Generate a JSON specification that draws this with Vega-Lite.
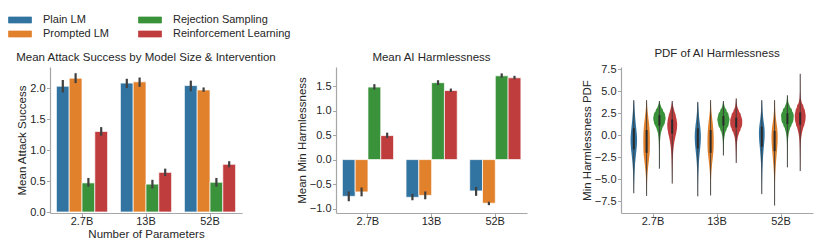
{
  "$schema": "https://vega.github.io/schema/vega-lite/v6.json",
  "padding": {"left": 12, "top": 12, "right": 5, "bottom": 5},
  "bounds": "flush",
  "spacing": 94,
  "config": {
    "font": "Liberation Sans",
    "view": {"stroke": null},
    "axis": {"domainColor": "#a6a6a6", "domainWidth": 1.2, "tickColor": "#a6a6a6", "tickSize": 3.5, "labelColor": "#262626", "labelFont": "Liberation Sans", "labelFontSize": 11, "labelOverlap": false, "titleFont": "Liberation Sans", "titleFontSize": 11.5, "titleFontWeight": "normal", "titleColor": "#262626", "grid": false, "labelPadding": 1.5, "titlePadding": 2},
    "axisX": {"labelPadding": -1, "titlePadding": 1.5},
    "title": {"font": "Liberation Sans", "fontSize": 11.5, "fontWeight": "normal", "color": "#262626", "offset": 0},
    "legend": {"orient": "none", "legendX": -38, "legendY": -55, "columns": 2, "columnPadding": 27, "rowPadding": 1, "symbolType": "M-1.6,-0.42H1.6V0.42H-1.6Z", "symbolSize": 207, "symbolStrokeWidth": 0, "labelFont": "Liberation Sans", "labelFontSize": 11, "labelColor": "#262626", "labelOffset": 15, "title": null},
    "bar": {"stroke": "white", "strokeWidth": 0.7}
  },
  "datasets": {
    "attack": [
      {"size": "2.7B", "method": "Plain LM", "mean": 2.03, "lo": 1.93, "hi": 2.13},
      {"size": "2.7B", "method": "Prompted LM", "mean": 2.16, "lo": 2.08, "hi": 2.24},
      {"size": "2.7B", "method": "Rejection Sampling", "mean": 0.47, "lo": 0.41, "hi": 0.55},
      {"size": "2.7B", "method": "Reinforcement Learning", "mean": 1.30, "lo": 1.23, "hi": 1.37},
      {"size": "13B", "method": "Plain LM", "mean": 2.08, "lo": 2.00, "hi": 2.15},
      {"size": "13B", "method": "Prompted LM", "mean": 2.10, "lo": 2.02, "hi": 2.17},
      {"size": "13B", "method": "Rejection Sampling", "mean": 0.45, "lo": 0.38, "hi": 0.52},
      {"size": "13B", "method": "Reinforcement Learning", "mean": 0.64, "lo": 0.58, "hi": 0.70},
      {"size": "52B", "method": "Plain LM", "mean": 2.04, "lo": 1.95, "hi": 2.12},
      {"size": "52B", "method": "Prompted LM", "mean": 1.97, "lo": 1.94, "hi": 2.01},
      {"size": "52B", "method": "Rejection Sampling", "mean": 0.48, "lo": 0.41, "hi": 0.55},
      {"size": "52B", "method": "Reinforcement Learning", "mean": 0.77, "lo": 0.72, "hi": 0.82}
    ],
    "harm": [
      {"size": "2.7B", "method": "Plain LM", "mean": -0.75, "lo": -0.85, "hi": -0.65},
      {"size": "2.7B", "method": "Prompted LM", "mean": -0.66, "lo": -0.75, "hi": -0.57},
      {"size": "2.7B", "method": "Rejection Sampling", "mean": 1.48, "lo": 1.43, "hi": 1.54},
      {"size": "2.7B", "method": "Reinforcement Learning", "mean": 0.49, "lo": 0.44, "hi": 0.55},
      {"size": "13B", "method": "Plain LM", "mean": -0.77, "lo": -0.83, "hi": -0.70},
      {"size": "13B", "method": "Prompted LM", "mean": -0.73, "lo": -0.81, "hi": -0.65},
      {"size": "13B", "method": "Rejection Sampling", "mean": 1.57, "lo": 1.52, "hi": 1.62},
      {"size": "13B", "method": "Reinforcement Learning", "mean": 1.41, "lo": 1.38, "hi": 1.45},
      {"size": "52B", "method": "Plain LM", "mean": -0.64, "lo": -0.74, "hi": -0.56},
      {"size": "52B", "method": "Prompted LM", "mean": -0.89, "lo": -0.93, "hi": -0.86},
      {"size": "52B", "method": "Rejection Sampling", "mean": 1.71, "lo": 1.67, "hi": 1.76},
      {"size": "52B", "method": "Reinforcement Learning", "mean": 1.67, "lo": 1.64, "hi": 1.71}
    ],
    "vstats": [
      {"size": "2.7B", "method": "Plain LM", "min": -6.6, "max": 4.0, "q1": -1.6, "q3": 0.8},
      {"size": "2.7B", "method": "Prompted LM", "min": -6.9, "max": 4.0, "q1": -2.0, "q3": 0.6},
      {"size": "2.7B", "method": "Rejection Sampling", "min": -3.8, "max": 3.9, "q1": 1.1, "q3": 2.3},
      {"size": "2.7B", "method": "Reinforcement Learning", "min": -5.5, "max": 3.9, "q1": 0.2, "q3": 1.8},
      {"size": "13B", "method": "Plain LM", "min": -6.95, "max": 3.8, "q1": -1.5, "q3": 0.8},
      {"size": "13B", "method": "Prompted LM", "min": -6.85, "max": 4.0, "q1": -2.0, "q3": 0.6},
      {"size": "13B", "method": "Rejection Sampling", "min": -2.3, "max": 3.9, "q1": 1.1, "q3": 2.2},
      {"size": "13B", "method": "Reinforcement Learning", "min": -3.15, "max": 4.2, "q1": 0.9, "q3": 2.0},
      {"size": "52B", "method": "Plain LM", "min": -6.7, "max": 4.0, "q1": -1.3, "q3": 1.0},
      {"size": "52B", "method": "Prompted LM", "min": -8.0, "max": 4.0, "q1": -1.8, "q3": 0.5},
      {"size": "52B", "method": "Rejection Sampling", "min": -3.65, "max": 4.55, "q1": 1.3, "q3": 2.5},
      {"size": "52B", "method": "Reinforcement Learning", "min": -4.07, "max": 7.0, "q1": 1.2, "q3": 2.6}
    ],
    "violin": [
      {"size": "2.7B", "method": "Plain LM", "v": 4.0, "pdf": 0.3},
      {"size": "2.7B", "method": "Plain LM", "v": 3.75, "pdf": 0.8},
      {"size": "2.7B", "method": "Plain LM", "v": 3.25, "pdf": 1.2},
      {"size": "2.7B", "method": "Plain LM", "v": 2.75, "pdf": 1.8},
      {"size": "2.7B", "method": "Plain LM", "v": 2.25, "pdf": 2.5},
      {"size": "2.7B", "method": "Plain LM", "v": 1.75, "pdf": 3.2},
      {"size": "2.7B", "method": "Plain LM", "v": 1.25, "pdf": 4.0},
      {"size": "2.7B", "method": "Plain LM", "v": 0.75, "pdf": 5.0},
      {"size": "2.7B", "method": "Plain LM", "v": 0.25, "pdf": 5.8},
      {"size": "2.7B", "method": "Plain LM", "v": -0.25, "pdf": 6.4},
      {"size": "2.7B", "method": "Plain LM", "v": -0.75, "pdf": 6.5},
      {"size": "2.7B", "method": "Plain LM", "v": -1.25, "pdf": 6.0},
      {"size": "2.7B", "method": "Plain LM", "v": -1.75, "pdf": 5.2},
      {"size": "2.7B", "method": "Plain LM", "v": -2.25, "pdf": 4.2},
      {"size": "2.7B", "method": "Plain LM", "v": -2.75, "pdf": 3.3},
      {"size": "2.7B", "method": "Plain LM", "v": -3.25, "pdf": 2.5},
      {"size": "2.7B", "method": "Plain LM", "v": -3.75, "pdf": 1.9},
      {"size": "2.7B", "method": "Plain LM", "v": -4.25, "pdf": 1.4},
      {"size": "2.7B", "method": "Plain LM", "v": -4.75, "pdf": 1.0},
      {"size": "2.7B", "method": "Plain LM", "v": -5.25, "pdf": 0.7},
      {"size": "2.7B", "method": "Plain LM", "v": -5.9, "pdf": 0.4},
      {"size": "2.7B", "method": "Plain LM", "v": -6.6, "pdf": 0.2},
      {"size": "2.7B", "method": "Prompted LM", "v": 4.0, "pdf": 0.3},
      {"size": "2.7B", "method": "Prompted LM", "v": 3.75, "pdf": 0.8},
      {"size": "2.7B", "method": "Prompted LM", "v": 3.25, "pdf": 1.2},
      {"size": "2.7B", "method": "Prompted LM", "v": 2.75, "pdf": 2.0},
      {"size": "2.7B", "method": "Prompted LM", "v": 2.25, "pdf": 3.0},
      {"size": "2.7B", "method": "Prompted LM", "v": 1.75, "pdf": 4.0},
      {"size": "2.7B", "method": "Prompted LM", "v": 1.25, "pdf": 5.0},
      {"size": "2.7B", "method": "Prompted LM", "v": 0.75, "pdf": 5.8},
      {"size": "2.7B", "method": "Prompted LM", "v": 0.25, "pdf": 6.3},
      {"size": "2.7B", "method": "Prompted LM", "v": -0.25, "pdf": 6.5},
      {"size": "2.7B", "method": "Prompted LM", "v": -0.75, "pdf": 6.6},
      {"size": "2.7B", "method": "Prompted LM", "v": -1.25, "pdf": 6.5},
      {"size": "2.7B", "method": "Prompted LM", "v": -1.75, "pdf": 6.3},
      {"size": "2.7B", "method": "Prompted LM", "v": -2.25, "pdf": 5.8},
      {"size": "2.7B", "method": "Prompted LM", "v": -2.75, "pdf": 4.8},
      {"size": "2.7B", "method": "Prompted LM", "v": -3.25, "pdf": 3.8},
      {"size": "2.7B", "method": "Prompted LM", "v": -3.75, "pdf": 2.8},
      {"size": "2.7B", "method": "Prompted LM", "v": -4.25, "pdf": 2.0},
      {"size": "2.7B", "method": "Prompted LM", "v": -4.75, "pdf": 1.4},
      {"size": "2.7B", "method": "Prompted LM", "v": -5.25, "pdf": 1.0},
      {"size": "2.7B", "method": "Prompted LM", "v": -5.75, "pdf": 0.7},
      {"size": "2.7B", "method": "Prompted LM", "v": -6.3, "pdf": 0.4},
      {"size": "2.7B", "method": "Prompted LM", "v": -6.9, "pdf": 0.2},
      {"size": "2.7B", "method": "Rejection Sampling", "v": 3.9, "pdf": 0.3},
      {"size": "2.7B", "method": "Rejection Sampling", "v": 3.6, "pdf": 1.5},
      {"size": "2.7B", "method": "Rejection Sampling", "v": 3.25, "pdf": 3.5},
      {"size": "2.7B", "method": "Rejection Sampling", "v": 2.75, "pdf": 7.5},
      {"size": "2.7B", "method": "Rejection Sampling", "v": 2.25, "pdf": 11.5},
      {"size": "2.7B", "method": "Rejection Sampling", "v": 1.9, "pdf": 12.5},
      {"size": "2.7B", "method": "Rejection Sampling", "v": 1.5, "pdf": 11.0},
      {"size": "2.7B", "method": "Rejection Sampling", "v": 1.25, "pdf": 9.0},
      {"size": "2.7B", "method": "Rejection Sampling", "v": 0.75, "pdf": 5.5},
      {"size": "2.7B", "method": "Rejection Sampling", "v": 0.25, "pdf": 3.0},
      {"size": "2.7B", "method": "Rejection Sampling", "v": -0.25, "pdf": 1.8},
      {"size": "2.7B", "method": "Rejection Sampling", "v": -0.75, "pdf": 1.2},
      {"size": "2.7B", "method": "Rejection Sampling", "v": -1.25, "pdf": 0.9},
      {"size": "2.7B", "method": "Rejection Sampling", "v": -2.0, "pdf": 0.6},
      {"size": "2.7B", "method": "Rejection Sampling", "v": -3.0, "pdf": 0.4},
      {"size": "2.7B", "method": "Rejection Sampling", "v": -3.8, "pdf": 0.2},
      {"size": "2.7B", "method": "Reinforcement Learning", "v": 3.9, "pdf": 0.3},
      {"size": "2.7B", "method": "Reinforcement Learning", "v": 3.6, "pdf": 1.0},
      {"size": "2.7B", "method": "Reinforcement Learning", "v": 3.25, "pdf": 2.2},
      {"size": "2.7B", "method": "Reinforcement Learning", "v": 2.75, "pdf": 4.5},
      {"size": "2.7B", "method": "Reinforcement Learning", "v": 2.25, "pdf": 7.0},
      {"size": "2.7B", "method": "Reinforcement Learning", "v": 1.75, "pdf": 9.0},
      {"size": "2.7B", "method": "Reinforcement Learning", "v": 1.25, "pdf": 10.0},
      {"size": "2.7B", "method": "Reinforcement Learning", "v": 0.75, "pdf": 9.5},
      {"size": "2.7B", "method": "Reinforcement Learning", "v": 0.25, "pdf": 8.0},
      {"size": "2.7B", "method": "Reinforcement Learning", "v": -0.25, "pdf": 6.0},
      {"size": "2.7B", "method": "Reinforcement Learning", "v": -0.75, "pdf": 4.3},
      {"size": "2.7B", "method": "Reinforcement Learning", "v": -1.25, "pdf": 3.0},
      {"size": "2.7B", "method": "Reinforcement Learning", "v": -1.75, "pdf": 2.2},
      {"size": "2.7B", "method": "Reinforcement Learning", "v": -2.25, "pdf": 1.6},
      {"size": "2.7B", "method": "Reinforcement Learning", "v": -2.75, "pdf": 1.2},
      {"size": "2.7B", "method": "Reinforcement Learning", "v": -3.5, "pdf": 0.8},
      {"size": "2.7B", "method": "Reinforcement Learning", "v": -4.5, "pdf": 0.5},
      {"size": "2.7B", "method": "Reinforcement Learning", "v": -5.5, "pdf": 0.2},
      {"size": "13B", "method": "Plain LM", "v": 3.8, "pdf": 0.3},
      {"size": "13B", "method": "Plain LM", "v": 3.5, "pdf": 0.9},
      {"size": "13B", "method": "Plain LM", "v": 3.25, "pdf": 1.1},
      {"size": "13B", "method": "Plain LM", "v": 2.75, "pdf": 1.6},
      {"size": "13B", "method": "Plain LM", "v": 2.25, "pdf": 2.3},
      {"size": "13B", "method": "Plain LM", "v": 1.75, "pdf": 3.2},
      {"size": "13B", "method": "Plain LM", "v": 1.25, "pdf": 4.3},
      {"size": "13B", "method": "Plain LM", "v": 0.75, "pdf": 5.3},
      {"size": "13B", "method": "Plain LM", "v": 0.25, "pdf": 6.0},
      {"size": "13B", "method": "Plain LM", "v": -0.25, "pdf": 6.2},
      {"size": "13B", "method": "Plain LM", "v": -0.75, "pdf": 5.9},
      {"size": "13B", "method": "Plain LM", "v": -1.25, "pdf": 5.2},
      {"size": "13B", "method": "Plain LM", "v": -1.75, "pdf": 4.3},
      {"size": "13B", "method": "Plain LM", "v": -2.25, "pdf": 3.4},
      {"size": "13B", "method": "Plain LM", "v": -2.75, "pdf": 2.6},
      {"size": "13B", "method": "Plain LM", "v": -3.25, "pdf": 2.0},
      {"size": "13B", "method": "Plain LM", "v": -3.75, "pdf": 1.5},
      {"size": "13B", "method": "Plain LM", "v": -4.25, "pdf": 1.1},
      {"size": "13B", "method": "Plain LM", "v": -4.75, "pdf": 0.8},
      {"size": "13B", "method": "Plain LM", "v": -5.5, "pdf": 0.5},
      {"size": "13B", "method": "Plain LM", "v": -6.2, "pdf": 0.35},
      {"size": "13B", "method": "Plain LM", "v": -6.95, "pdf": 0.2},
      {"size": "13B", "method": "Prompted LM", "v": 4.0, "pdf": 0.3},
      {"size": "13B", "method": "Prompted LM", "v": 3.75, "pdf": 0.7},
      {"size": "13B", "method": "Prompted LM", "v": 3.25, "pdf": 1.0},
      {"size": "13B", "method": "Prompted LM", "v": 2.75, "pdf": 1.5},
      {"size": "13B", "method": "Prompted LM", "v": 2.25, "pdf": 2.5},
      {"size": "13B", "method": "Prompted LM", "v": 1.75, "pdf": 3.5},
      {"size": "13B", "method": "Prompted LM", "v": 1.25, "pdf": 4.5},
      {"size": "13B", "method": "Prompted LM", "v": 0.75, "pdf": 5.3},
      {"size": "13B", "method": "Prompted LM", "v": 0.25, "pdf": 5.9},
      {"size": "13B", "method": "Prompted LM", "v": -0.25, "pdf": 6.2},
      {"size": "13B", "method": "Prompted LM", "v": -0.75, "pdf": 6.3},
      {"size": "13B", "method": "Prompted LM", "v": -1.25, "pdf": 6.2},
      {"size": "13B", "method": "Prompted LM", "v": -1.75, "pdf": 5.8},
      {"size": "13B", "method": "Prompted LM", "v": -2.25, "pdf": 5.0},
      {"size": "13B", "method": "Prompted LM", "v": -2.75, "pdf": 4.0},
      {"size": "13B", "method": "Prompted LM", "v": -3.25, "pdf": 3.0},
      {"size": "13B", "method": "Prompted LM", "v": -3.75, "pdf": 2.2},
      {"size": "13B", "method": "Prompted LM", "v": -4.25, "pdf": 1.5},
      {"size": "13B", "method": "Prompted LM", "v": -4.75, "pdf": 1.0},
      {"size": "13B", "method": "Prompted LM", "v": -5.25, "pdf": 0.7},
      {"size": "13B", "method": "Prompted LM", "v": -6.0, "pdf": 0.4},
      {"size": "13B", "method": "Prompted LM", "v": -6.85, "pdf": 0.2},
      {"size": "13B", "method": "Rejection Sampling", "v": 3.9, "pdf": 0.3},
      {"size": "13B", "method": "Rejection Sampling", "v": 3.6, "pdf": 1.2},
      {"size": "13B", "method": "Rejection Sampling", "v": 3.25, "pdf": 2.5},
      {"size": "13B", "method": "Rejection Sampling", "v": 2.75, "pdf": 6.5},
      {"size": "13B", "method": "Rejection Sampling", "v": 2.25, "pdf": 10.5},
      {"size": "13B", "method": "Rejection Sampling", "v": 1.8, "pdf": 12.3},
      {"size": "13B", "method": "Rejection Sampling", "v": 1.25, "pdf": 10.5},
      {"size": "13B", "method": "Rejection Sampling", "v": 0.75, "pdf": 6.5},
      {"size": "13B", "method": "Rejection Sampling", "v": 0.25, "pdf": 3.5},
      {"size": "13B", "method": "Rejection Sampling", "v": -0.25, "pdf": 1.8},
      {"size": "13B", "method": "Rejection Sampling", "v": -0.75, "pdf": 1.0},
      {"size": "13B", "method": "Rejection Sampling", "v": -1.5, "pdf": 0.6},
      {"size": "13B", "method": "Rejection Sampling", "v": -2.3, "pdf": 0.2},
      {"size": "13B", "method": "Reinforcement Learning", "v": 4.2, "pdf": 0.3},
      {"size": "13B", "method": "Reinforcement Learning", "v": 3.75, "pdf": 0.9},
      {"size": "13B", "method": "Reinforcement Learning", "v": 3.25, "pdf": 2.2},
      {"size": "13B", "method": "Reinforcement Learning", "v": 2.75, "pdf": 5.5},
      {"size": "13B", "method": "Reinforcement Learning", "v": 2.25, "pdf": 9.5},
      {"size": "13B", "method": "Reinforcement Learning", "v": 1.75, "pdf": 12.0},
      {"size": "13B", "method": "Reinforcement Learning", "v": 1.25, "pdf": 12.0},
      {"size": "13B", "method": "Reinforcement Learning", "v": 0.75, "pdf": 9.0},
      {"size": "13B", "method": "Reinforcement Learning", "v": 0.25, "pdf": 5.5},
      {"size": "13B", "method": "Reinforcement Learning", "v": -0.25, "pdf": 3.0},
      {"size": "13B", "method": "Reinforcement Learning", "v": -0.75, "pdf": 1.8},
      {"size": "13B", "method": "Reinforcement Learning", "v": -1.25, "pdf": 1.2},
      {"size": "13B", "method": "Reinforcement Learning", "v": -2.2, "pdf": 0.6},
      {"size": "13B", "method": "Reinforcement Learning", "v": -3.15, "pdf": 0.2},
      {"size": "52B", "method": "Plain LM", "v": 4.0, "pdf": 0.3},
      {"size": "52B", "method": "Plain LM", "v": 3.75, "pdf": 0.7},
      {"size": "52B", "method": "Plain LM", "v": 3.25, "pdf": 1.0},
      {"size": "52B", "method": "Plain LM", "v": 2.75, "pdf": 1.5},
      {"size": "52B", "method": "Plain LM", "v": 2.25, "pdf": 2.3},
      {"size": "52B", "method": "Plain LM", "v": 1.75, "pdf": 3.3},
      {"size": "52B", "method": "Plain LM", "v": 1.25, "pdf": 4.5},
      {"size": "52B", "method": "Plain LM", "v": 0.75, "pdf": 5.5},
      {"size": "52B", "method": "Plain LM", "v": 0.25, "pdf": 5.8},
      {"size": "52B", "method": "Plain LM", "v": -0.25, "pdf": 5.6},
      {"size": "52B", "method": "Plain LM", "v": -0.75, "pdf": 5.0},
      {"size": "52B", "method": "Plain LM", "v": -1.25, "pdf": 4.2},
      {"size": "52B", "method": "Plain LM", "v": -1.75, "pdf": 3.4},
      {"size": "52B", "method": "Plain LM", "v": -2.25, "pdf": 2.7},
      {"size": "52B", "method": "Plain LM", "v": -2.75, "pdf": 2.1},
      {"size": "52B", "method": "Plain LM", "v": -3.25, "pdf": 1.6},
      {"size": "52B", "method": "Plain LM", "v": -3.75, "pdf": 1.2},
      {"size": "52B", "method": "Plain LM", "v": -4.25, "pdf": 0.9},
      {"size": "52B", "method": "Plain LM", "v": -5.0, "pdf": 0.6},
      {"size": "52B", "method": "Plain LM", "v": -5.8, "pdf": 0.4},
      {"size": "52B", "method": "Plain LM", "v": -6.7, "pdf": 0.2},
      {"size": "52B", "method": "Prompted LM", "v": 4.0, "pdf": 0.3},
      {"size": "52B", "method": "Prompted LM", "v": 3.75, "pdf": 0.6},
      {"size": "52B", "method": "Prompted LM", "v": 3.25, "pdf": 0.9},
      {"size": "52B", "method": "Prompted LM", "v": 2.75, "pdf": 1.3},
      {"size": "52B", "method": "Prompted LM", "v": 2.25, "pdf": 2.0},
      {"size": "52B", "method": "Prompted LM", "v": 1.75, "pdf": 3.0},
      {"size": "52B", "method": "Prompted LM", "v": 1.25, "pdf": 4.2},
      {"size": "52B", "method": "Prompted LM", "v": 0.75, "pdf": 5.3},
      {"size": "52B", "method": "Prompted LM", "v": 0.25, "pdf": 6.0},
      {"size": "52B", "method": "Prompted LM", "v": -0.25, "pdf": 6.2},
      {"size": "52B", "method": "Prompted LM", "v": -0.75, "pdf": 6.0},
      {"size": "52B", "method": "Prompted LM", "v": -1.25, "pdf": 5.5},
      {"size": "52B", "method": "Prompted LM", "v": -1.75, "pdf": 4.8},
      {"size": "52B", "method": "Prompted LM", "v": -2.25, "pdf": 4.0},
      {"size": "52B", "method": "Prompted LM", "v": -2.75, "pdf": 3.3},
      {"size": "52B", "method": "Prompted LM", "v": -3.25, "pdf": 2.6},
      {"size": "52B", "method": "Prompted LM", "v": -3.75, "pdf": 2.0},
      {"size": "52B", "method": "Prompted LM", "v": -4.25, "pdf": 1.5},
      {"size": "52B", "method": "Prompted LM", "v": -4.75, "pdf": 1.1},
      {"size": "52B", "method": "Prompted LM", "v": -5.25, "pdf": 0.8},
      {"size": "52B", "method": "Prompted LM", "v": -6.0, "pdf": 0.5},
      {"size": "52B", "method": "Prompted LM", "v": -7.0, "pdf": 0.3},
      {"size": "52B", "method": "Prompted LM", "v": -8.0, "pdf": 0.2},
      {"size": "52B", "method": "Rejection Sampling", "v": 4.55, "pdf": 0.3},
      {"size": "52B", "method": "Rejection Sampling", "v": 4.25, "pdf": 0.8},
      {"size": "52B", "method": "Rejection Sampling", "v": 3.75, "pdf": 2.0},
      {"size": "52B", "method": "Rejection Sampling", "v": 3.25, "pdf": 5.0},
      {"size": "52B", "method": "Rejection Sampling", "v": 2.75, "pdf": 9.5},
      {"size": "52B", "method": "Rejection Sampling", "v": 2.25, "pdf": 12.7},
      {"size": "52B", "method": "Rejection Sampling", "v": 1.75, "pdf": 12.0},
      {"size": "52B", "method": "Rejection Sampling", "v": 1.25, "pdf": 8.5},
      {"size": "52B", "method": "Rejection Sampling", "v": 0.75, "pdf": 5.0},
      {"size": "52B", "method": "Rejection Sampling", "v": 0.25, "pdf": 2.8},
      {"size": "52B", "method": "Rejection Sampling", "v": -0.25, "pdf": 1.6},
      {"size": "52B", "method": "Rejection Sampling", "v": -0.75, "pdf": 1.0},
      {"size": "52B", "method": "Rejection Sampling", "v": -1.5, "pdf": 0.6},
      {"size": "52B", "method": "Rejection Sampling", "v": -2.5, "pdf": 0.4},
      {"size": "52B", "method": "Rejection Sampling", "v": -3.65, "pdf": 0.2},
      {"size": "52B", "method": "Reinforcement Learning", "v": 7.0, "pdf": 0.2},
      {"size": "52B", "method": "Reinforcement Learning", "v": 6.0, "pdf": 0.3},
      {"size": "52B", "method": "Reinforcement Learning", "v": 5.0, "pdf": 0.45},
      {"size": "52B", "method": "Reinforcement Learning", "v": 4.25, "pdf": 1.2},
      {"size": "52B", "method": "Reinforcement Learning", "v": 3.75, "pdf": 3.0},
      {"size": "52B", "method": "Reinforcement Learning", "v": 3.25, "pdf": 6.5},
      {"size": "52B", "method": "Reinforcement Learning", "v": 2.75, "pdf": 9.5},
      {"size": "52B", "method": "Reinforcement Learning", "v": 2.25, "pdf": 11.0},
      {"size": "52B", "method": "Reinforcement Learning", "v": 1.75, "pdf": 10.5},
      {"size": "52B", "method": "Reinforcement Learning", "v": 1.25, "pdf": 8.5},
      {"size": "52B", "method": "Reinforcement Learning", "v": 0.75, "pdf": 5.5},
      {"size": "52B", "method": "Reinforcement Learning", "v": 0.25, "pdf": 3.5},
      {"size": "52B", "method": "Reinforcement Learning", "v": -0.25, "pdf": 2.0},
      {"size": "52B", "method": "Reinforcement Learning", "v": -0.75, "pdf": 1.3},
      {"size": "52B", "method": "Reinforcement Learning", "v": -1.5, "pdf": 0.8},
      {"size": "52B", "method": "Reinforcement Learning", "v": -2.5, "pdf": 0.5},
      {"size": "52B", "method": "Reinforcement Learning", "v": -3.3, "pdf": 0.35},
      {"size": "52B", "method": "Reinforcement Learning", "v": -4.07, "pdf": 0.2}
    ]
  },
  "hconcat": [
    {
      "width": 192, "height": 146,
      "title": "Mean Attack Success by Model Size & Intervention",
      "data": {"name": "attack"},
      "encoding": {
        "x": {"field": "size", "type": "nominal", "sort": ["2.7B", "13B", "52B"], "scale": {"paddingInner": 0.2, "paddingOuter": 0.1}, "axis": {"title": "Number of Parameters", "labelAngle": 0}},
        "xOffset": {"field": "method", "type": "nominal", "sort": ["Plain LM", "Prompted LM", "Rejection Sampling", "Reinforcement Learning"], "scale": {"paddingInner": 0, "paddingOuter": 0}}
      },
      "layer": [
        {"mark": {"type": "bar"},
         "encoding": {
           "y": {"field": "mean", "type": "quantitative", "scale": {"domain": [-0.016, 2.34], "nice": false, "zero": false}, "axis": {"title": "Mean Attack Success", "values": [0, 0.5, 1, 1.5, 2], "format": ".1f", "labelOverlap": false}},
           "y2": {"datum": 0},
           "color": {"field": "method", "type": "nominal", "scale": {"domain": ["Plain LM", "Prompted LM", "Rejection Sampling", "Reinforcement Learning"], "range": ["#3274a1", "#e1812c", "#3a923a", "#c03d3e"]}}
         }},
        {"mark": {"type": "rule", "color": "#404040", "strokeWidth": 2.2},
         "encoding": {"y": {"field": "lo", "type": "quantitative", "axis": {"title": "Mean Attack Success", "values": [0, 0.5, 1, 1.5, 2], "format": ".1f", "labelOverlap": false}}, "y2": {"field": "hi"}}}
      ]
    },
    {
      "width": 191, "height": 146,
      "title": "Mean AI Harmlessness",
      "data": {"name": "harm"},
      "encoding": {
        "x": {"field": "size", "type": "nominal", "sort": ["2.7B", "13B", "52B"], "scale": {"paddingInner": 0.2, "paddingOuter": 0.1}, "axis": {"title": null, "labelAngle": 0}},
        "xOffset": {"field": "method", "type": "nominal", "sort": ["Plain LM", "Prompted LM", "Rejection Sampling", "Reinforcement Learning"], "scale": {"paddingInner": 0, "paddingOuter": 0}}
      },
      "layer": [
        {"mark": {"type": "bar"},
         "encoding": {
           "y": {"field": "mean", "type": "quantitative", "scale": {"domain": [-1.09, 1.89], "nice": false, "zero": false}, "axis": {"title": "Mean Min Harmlessness", "values": [-1, -0.5, 0, 0.5, 1, 1.5], "format": ".1f", "labelOverlap": false}},
           "y2": {"datum": 0},
           "color": {"field": "method", "type": "nominal", "scale": {"domain": ["Plain LM", "Prompted LM", "Rejection Sampling", "Reinforcement Learning"], "range": ["#3274a1", "#e1812c", "#3a923a", "#c03d3e"]}}
         }},
        {"mark": {"type": "rule", "color": "#404040", "strokeWidth": 2.2},
         "encoding": {"y": {"field": "lo", "type": "quantitative", "axis": {"title": "Mean Min Harmlessness", "values": [-1, -0.5, 0, 0.5, 1, 1.5], "format": ".1f", "labelOverlap": false}}, "y2": {"field": "hi"}}}
      ]
    },
    {
      "width": 192, "height": 146,
      "title": "PDF of AI Harmlessness",
      "encoding": {
        "x": {"field": "size", "type": "nominal", "sort": ["2.7B", "13B", "52B"], "scale": {"paddingInner": 0.2, "paddingOuter": 0.1}, "axis": {"title": null, "labelAngle": 0}},
        "xOffset": {"field": "method", "type": "nominal", "sort": ["Plain LM", "Prompted LM", "Rejection Sampling", "Reinforcement Learning"], "scale": {"paddingInner": 0, "paddingOuter": 0}}
      },
      "layer": [
        {"data": {"name": "violin"},
         "mark": {"type": "trail"},
         "encoding": {
           "y": {"field": "v", "type": "quantitative", "scale": {"domain": [-8.85, 7.78], "nice": false, "zero": false}, "axis": {"title": "Min Harmlessness PDF", "values": [-7.5, -5, -2.5, 0, 2.5, 5, 7.5], "format": ".1f", "labelOverlap": false}},
           "order": {"field": "v", "type": "quantitative"},
           "detail": {"field": "size", "type": "nominal"},
           "size": {"field": "pdf", "type": "quantitative", "scale": {"domain": [0, 13], "range": [0, 13]}, "legend": null},
           "color": {"field": "method", "type": "nominal", "scale": {"domain": ["Plain LM", "Prompted LM", "Rejection Sampling", "Reinforcement Learning"], "range": ["#3274a1", "#e1812c", "#3a923a", "#c03d3e"]}}
         }},
        {"data": {"name": "vstats"},
         "mark": {"type": "rule", "color": "#3a3a3a", "strokeWidth": 0.9},
         "encoding": {"y": {"field": "min", "type": "quantitative", "axis": {"title": "Min Harmlessness PDF", "values": [-7.5, -5, -2.5, 0, 2.5, 5, 7.5], "format": ".1f", "labelOverlap": false}}, "y2": {"field": "max"}}},
        {"data": {"name": "vstats"},
         "mark": {"type": "rule", "color": "#2a2a2a", "strokeWidth": 2},
         "encoding": {"y": {"field": "q1", "type": "quantitative", "axis": {"title": "Min Harmlessness PDF", "values": [-7.5, -5, -2.5, 0, 2.5, 5, 7.5], "format": ".1f", "labelOverlap": false}}, "y2": {"field": "q3"}}}
      ]
    }
  ]
}
